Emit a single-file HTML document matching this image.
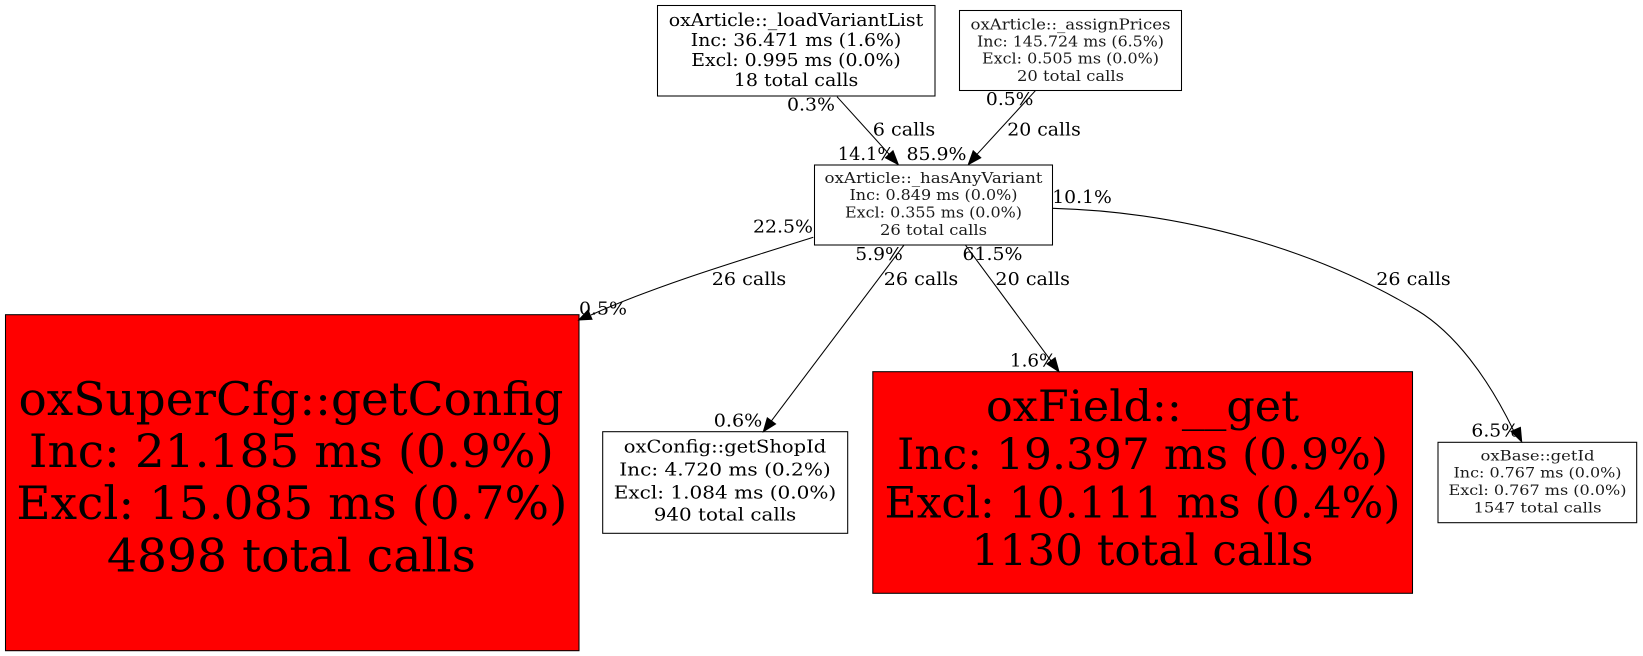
<!DOCTYPE html>
<html><head><meta charset="utf-8"><style>
html,body{margin:0;padding:0;background:#fff}
svg{display:block}
text{font-family:"DejaVu Serif","Liberation Serif",serif;fill:#000;text-anchor:middle;font-variant-ligatures:common-ligatures;text-rendering:optimizeLegibility}
.l{font-size:17.5px}
.s text{fill:#1a1a1a}
rect{stroke:#000;stroke-width:1.05}
path{fill:none;stroke:#000;stroke-width:1.05}
polygon{fill:#000;stroke:#000;stroke-width:1}
</style></head><body>
<svg width="1643" height="656" viewBox="0 0 1643 656" xmlns="http://www.w3.org/2000/svg">
<rect x="657.5" y="5.5" width="277.5" height="90.5" fill="#fff"/>
<rect x="959.5" y="10.5" width="222" height="80" fill="#fff"/>
<rect x="814.5" y="165" width="238" height="80" fill="#fff"/>
<rect x="5.5" y="314.7" width="573.5" height="336" fill="#f00"/>
<rect x="602.7" y="431.7" width="245" height="101.6" fill="#fff"/>
<rect x="872.8" y="371.7" width="539.7" height="221.6" fill="#f00"/>
<rect x="1438" y="442.3" width="198.7" height="80.4" fill="#fff"/>

<path d="M837,96.7L889.2,154.3"/><polygon points="898.3,164.6 893,150.8 885.4,157.8"/>
<path d="M1035.4,90.7L977,154.3"/><polygon points="968.3,164.6 980.8,157.8 973.2,150.8"/>
<path d="M813.3,237.3C745,259 660,284 591,315"/><polygon points="578.6,320 592,319.3 588,310"/>
<path d="M904,245L771.4,420.9"/><polygon points="763.3,431.7 775.6,424 767.3,417.8"/>
<path d="M965.4,245L1051,360.8"/><polygon points="1059,371.7 1055.1,357.7 1046.9,363.9"/>
<path d="M1052.5,208.3C1190,212 1320,252 1416.7,310C1455,333 1488,378 1513.3,430"/><polygon points="1521.7,441.8 1520.4,427.4 1511,431.4"/>

<g font-size="17.7">
<text x="796" y="26" textLength="254.5" lengthAdjust="spacingAndGlyphs">oxArticle::_loadVariantList</text>
<text x="796" y="46" textLength="210.5" lengthAdjust="spacingAndGlyphs">Inc: 36.471 ms (1.6%)</text>
<text x="796" y="66" textLength="209.5" lengthAdjust="spacingAndGlyphs">Excl: 0.995 ms (0.0%)</text>
<text x="796" y="86" textLength="124.5" lengthAdjust="spacingAndGlyphs">18 total calls</text>
</g>
<g font-size="15.3" class="s">
<text x="1070.5" y="29.3" textLength="200" lengthAdjust="spacingAndGlyphs">oxArticle::_assignPrices</text>
<text x="1070.5" y="46.5" textLength="187" lengthAdjust="spacingAndGlyphs">Inc: 145.724 ms (6.5%)</text>
<text x="1070.5" y="63.5" textLength="177" lengthAdjust="spacingAndGlyphs">Excl: 0.505 ms (0.0%)</text>
<text x="1070.5" y="81" textLength="107" lengthAdjust="spacingAndGlyphs">20 total calls</text>
</g>
<g font-size="15.3" class="s">
<text x="933.5" y="183" textLength="218" lengthAdjust="spacingAndGlyphs">oxArticle::_hasAnyVariant</text>
<text x="933.5" y="200" textLength="168" lengthAdjust="spacingAndGlyphs">Inc: 0.849 ms (0.0%)</text>
<text x="933.5" y="217.3" textLength="177" lengthAdjust="spacingAndGlyphs">Excl: 0.355 ms (0.0%)</text>
<text x="933.5" y="235" textLength="107" lengthAdjust="spacingAndGlyphs">26 total calls</text>
</g>
<g font-size="46">
<text x="291" y="415" textLength="545" lengthAdjust="spacingAndGlyphs">oxSuperCfg::getConfig</text>
<text x="291.4" y="467" textLength="525" lengthAdjust="spacingAndGlyphs">Inc: 21.185 ms (0.9%)</text>
<text x="291.9" y="519" textLength="551" lengthAdjust="spacingAndGlyphs">Excl: 15.085 ms (0.7%)</text>
<text x="291.4" y="571.5" textLength="369" lengthAdjust="spacingAndGlyphs">4898 total calls</text>
</g>
<g font-size="17.7">
<text x="725" y="452.7" textLength="202.5" lengthAdjust="spacingAndGlyphs">oxConfig::getShopId</text>
<text x="725" y="475.7" textLength="211.5" lengthAdjust="spacingAndGlyphs">Inc: 4.720 ms (0.2%)</text>
<text x="725" y="498.3" textLength="222.5" lengthAdjust="spacingAndGlyphs">Excl: 1.084 ms (0.0%)</text>
<text x="725" y="520.7" textLength="142.5" lengthAdjust="spacingAndGlyphs">940 total calls</text>
</g>
<g font-size="43">
<text x="1142.5" y="421" textLength="313" lengthAdjust="spacingAndGlyphs">oxField::__get</text>
<text x="1142.5" y="469" textLength="491" lengthAdjust="spacingAndGlyphs">Inc: 19.397 ms (0.9%)</text>
<text x="1142.5" y="517.3" textLength="516" lengthAdjust="spacingAndGlyphs">Excl: 10.111 ms (0.4%)</text>
<text x="1142.5" y="565" textLength="342" lengthAdjust="spacingAndGlyphs">1130 total calls</text>
</g>
<g font-size="14.4" class="s">
<text x="1537.5" y="460.7" textLength="114" lengthAdjust="spacingAndGlyphs">oxBase::getId</text>
<text x="1537.5" y="477.7" textLength="168" lengthAdjust="spacingAndGlyphs">Inc: 0.767 ms (0.0%)</text>
<text x="1537.5" y="495" textLength="178" lengthAdjust="spacingAndGlyphs">Excl: 0.767 ms (0.0%)</text>
<text x="1537.5" y="512.7" textLength="128" lengthAdjust="spacingAndGlyphs">1547 total calls</text>
</g>

<g class="l">
<text x="811" y="110.7" textLength="48" lengthAdjust="spacingAndGlyphs">0.3%</text>
<text x="904" y="135.7" textLength="62.5" lengthAdjust="spacingAndGlyphs">6 calls</text>
<text x="866" y="160" textLength="56.5" lengthAdjust="spacingAndGlyphs">14.1%</text>
<text x="936.5" y="160" textLength="60" lengthAdjust="spacingAndGlyphs">85.9%</text>
<text x="1009.7" y="105" textLength="47.5" lengthAdjust="spacingAndGlyphs">0.5%</text>
<text x="1044" y="135.7" textLength="73.5" lengthAdjust="spacingAndGlyphs">20 calls</text>
<text x="1082" y="203" textLength="59.5" lengthAdjust="spacingAndGlyphs">10.1%</text>
<text x="783" y="232.7" textLength="60" lengthAdjust="spacingAndGlyphs">22.5%</text>
<text x="879" y="260" textLength="47.5" lengthAdjust="spacingAndGlyphs">5.9%</text>
<text x="992.5" y="260" textLength="60" lengthAdjust="spacingAndGlyphs">61.5%</text>
<text x="749" y="285" textLength="74.5" lengthAdjust="spacingAndGlyphs">26 calls</text>
<text x="603" y="314.7" textLength="48" lengthAdjust="spacingAndGlyphs">0.5%</text>
<text x="738" y="426.7" textLength="48.5" lengthAdjust="spacingAndGlyphs">0.6%</text>
<text x="921" y="285" textLength="74.5" lengthAdjust="spacingAndGlyphs">26 calls</text>
<text x="1032.7" y="285" textLength="74.5" lengthAdjust="spacingAndGlyphs">20 calls</text>
<text x="1413.5" y="285" textLength="74.5" lengthAdjust="spacingAndGlyphs">26 calls</text>
<text x="1033.2" y="366.7" textLength="46.5" lengthAdjust="spacingAndGlyphs">1.6%</text>
<text x="1495.2" y="436.7" textLength="47.5" lengthAdjust="spacingAndGlyphs">6.5%</text>
</g>
</svg>
</body></html>
